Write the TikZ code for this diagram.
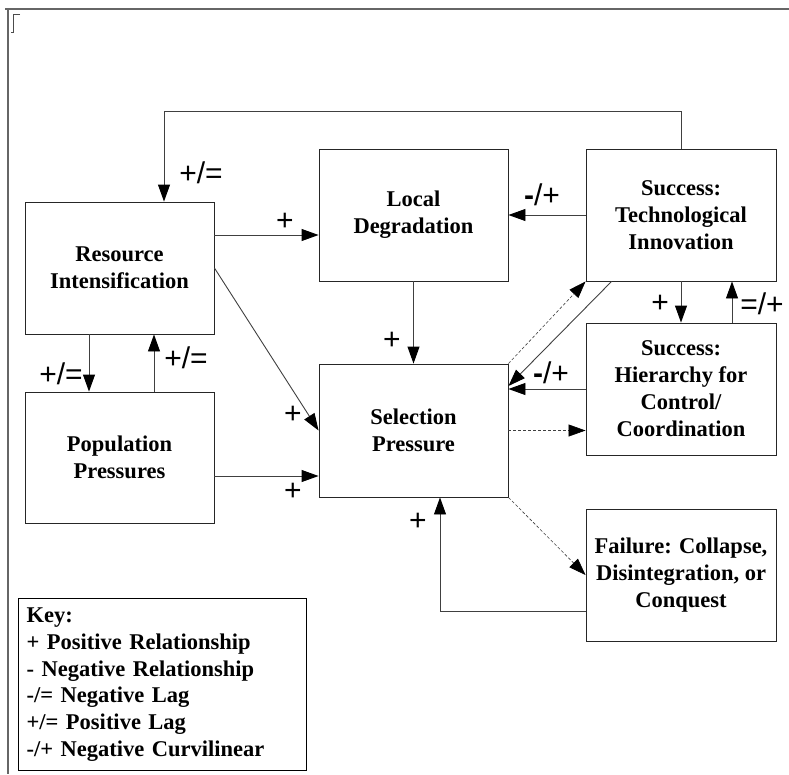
\documentclass[tikz,border=0pt]{standalone}
\usepackage{fontspec}
\setmainfont{Liberation Serif}
\newfontfamily\lblfont{Liberation Sans}
\usetikzlibrary{arrows.meta,calc}

\begin{document}
\begin{tikzpicture}[x=1pt,y=-1pt,
  box/.style={draw=black!85, line width=0.9pt, minimum width=189pt,
    minimum height=132pt, align=center, inner sep=0pt,
    font=\fontsize{22.5}{27}\selectfont\bfseries},
  keybox/.style={draw=black, line width=1.2pt, minimum width=288pt,
    minimum height=172pt, text width=272pt, inner xsep=8pt, align=left,
    font=\fontsize{22.5}{26.8}\selectfont\bfseries},
  arr/.style={draw=black!75, line width=0.9pt,
    -{Triangle[length=17pt,width=12pt,color=black]}},
  dsh/.style={arr, line width=0.6pt, dash pattern=on 3pt off 2pt},
  lbl/.style={font=\lblfont\fontsize{30}{30}\selectfont, inner sep=0pt},
  frame/.style={draw=black!60, line width=1.4pt}]

\useasboundingbox (0,0) rectangle (789,774);

% outer frame
\draw[frame] (5,9) -- (789,9);
\draw[frame] (8,9) -- (8,774);
\draw[black!70, line width=0.6pt] (20,14) -- (13,14) -- (13,32) -- (11,32);

% boxes
\node[box] (ri) at (119.5,268) {Resource\\Intensification};
\node[box] (ld) at (413.5,215) {Local\\Degradation};
\node[box, minimum width=190pt] (ti) at (681,215) {Success:\\Technological\\Innovation};
\node[box, minimum height=131pt] (pp) at (119.5,457.5) {Population\\Pressures};
\node[box, minimum height=133pt] (sp) at (413.5,430.5) {Selection\\Pressure};
\node[box, minimum width=190pt] (hc) at (681,389) {Success:\\Hierarchy for\\Control/\\Coordination};
\node[box, minimum width=190pt] (fc) at (681,575) {Failure: Collapse,\\Disintegration, or\\Conquest};

% key
\node[keybox, anchor=north west] (key) at (18,598) {Key:\\+ Positive Relationship\\- Negative Relationship\\-/= Negative Lag\\+/= Positive Lag\\-/+ Negative Curvilinear};

% feedback loop from innovation back to intensification
\draw[arr] (ti.north) -- ++(0,-37) -| ([xshift=44.5pt]ri.north);
\node[lbl] (l1) at (201,173) {+/=};

% intensification -> degradation
\draw[arr] ([yshift=33pt]ri.east) -- ([yshift=33pt]ri.east -| ld.west);
\node[lbl] (l2) at (285,222) {+};

% innovation -> degradation
\draw[arr] (ti.west) -- (ld.east);
\node[lbl] (l3) at (542,195) {\textbf{-}/+};

% degradation -> selection
\draw[arr] (ld.south) -- (sp.north);
\node[lbl] (l4) at (392,341) {+};

% intensification -> selection
\draw[arr] (ri.east) -- (sp.west);
\node[lbl] (l5) at (293,415) {+};

% population -> selection
\draw[arr] ([yshift=-18.5pt]pp.east) -- ([yshift=-18.5pt]pp.east -| sp.west);
\node[lbl] (l6) at (293,492) {+};

% intensification <-> population
\draw[arr] ([xshift=-30.5pt]ri.south) -- ([xshift=-30.5pt]ri.south |- pp.north);
\node[lbl] (l7) at (61,374) {+/=};
\draw[arr] ([xshift=34.5pt]pp.north) -- ([xshift=34.5pt]pp.north |- ri.south);
\node[lbl] (l8) at (186,358) {+/=};

% innovation <-> hierarchy
\draw[arr] (ti.south) -- (hc.north);
\node[lbl] (l9) at (660,304) {+};
\draw[arr] ([xshift=51pt]hc.north) -- ([xshift=51pt]hc.north |- ti.south);
\node[lbl] (l10) at (762,304) {=/+};

% hierarchy -> selection
\draw[arr] (hc.west) -- (hc.west -| sp.east);
\node[lbl] (l11) at (551,373) {\textbf{-}/+};

% innovation -> selection
\draw[arr] ([xshift=26pt]ti.south west) -- ([yshift=44.5pt]sp.east);

% selection pressure outcomes (dashed)
\draw[dsh] (sp.north east) -- (ti.south west);
\draw[dsh] (sp.east) -- (sp.east -| hc.west);
\draw[dsh] (sp.south east) -- (fc.west);

% failure -> selection
\draw[arr] ([yshift=-36pt]fc.west) -| ([xshift=26.5pt]sp.south);
\node[lbl] (l12) at (418,522) {+};

\end{tikzpicture}
\end{document}
